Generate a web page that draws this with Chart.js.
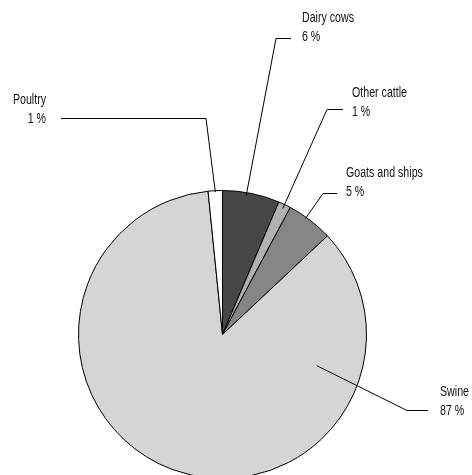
<!DOCTYPE html>
<html>
<head>
<meta charset="utf-8">
<script src="https://cdn.jsdelivr.net/npm/chart.js@4"></script>
<style>
  html, body { margin: 0; background: #fff; overflow: hidden; }
  canvas { display: block; }
</style>
</head>
<body>
<canvas id="myChart" width="472" height="479"></canvas>
<script>
// categories, clockwise from 12 o'clock
const categorias = ["Dairy cows", "Other cattle", "Goats and ships", "Swine", "Poultry"];
// slice sizes
const valores = [6.4, 1.4, 5.2, 85.4, 1.6];
// percentages printed on the labels
const etiquetas = ["6 %", "1 %", "5 %", "87 %", "1 %"];
const colores = ["#474747", "#b1b1b1", "#858585", "#d5d5d5", "#ffffff"];

const fuente = "14px 'Liberation Sans', Arial, sans-serif";
const estrechar = 0.76; // condensed look

// leader line layout: t = where along the slice, f = radius fraction,
// codo = elbow point, fin = end of horizontal, texto = text x, align
const guias = [
  { t: 0.42, f: 0.98, codo: [276, 38], fin: [291, 38], texto: [302, 18], align: "left" },
  { t: 0.5, f: 0.97, codo: [327, 109], fin: [343, 109], texto: [352, 93], align: "left" },
  { t: 0.4, f: 0.99, codo: [323, 193], fin: [337, 193], texto: [346, 173], align: "left" },
  { t: 0.2, f: 0.69, codo: [407, 410], fin: [428, 410], texto: [440, 392], align: "left" },
  { t: 0.5, f: 0.99, codo: [206, 118], fin: [61, 118], texto: [46, 100], align: "right" },
];

function textoEstrecho(ctx, txt, x, y) {
  ctx.save();
  ctx.translate(x, y);
  ctx.scale(estrechar, 1);
  ctx.fillText(txt, 0, 0);
  ctx.restore();
}

const pluginEtiquetas = {
  id: "etiquetas",
  afterDatasetsDraw(chart) {
    const ctx = chart.ctx;
    const arcos = chart.getDatasetMeta(0).data;
    ctx.save();
    ctx.strokeStyle = "#000";
    ctx.lineWidth = 1;
    ctx.fillStyle = "#111";
    ctx.font = fuente;
    ctx.textBaseline = "middle";
    arcos.forEach((arco, i) => {
      const g = guias[i];
      const p = arco.getProps(["x", "y", "startAngle", "endAngle", "outerRadius"], true);
      const ang = p.startAngle + (p.endAngle - p.startAngle) * g.t;
      const r = p.outerRadius * g.f;
      const ax = p.x + Math.cos(ang) * r;
      const ay = p.y + Math.sin(ang) * r;
      ctx.beginPath();
      ctx.moveTo(ax, ay);
      ctx.lineTo(g.codo[0], g.codo[1] + 0.5);
      ctx.lineTo(g.fin[0], g.fin[1] + 0.5);
      ctx.stroke();
      ctx.textAlign = g.align;
      textoEstrecho(ctx, categorias[i], g.texto[0], g.texto[1]);
      textoEstrecho(ctx, etiquetas[i], g.texto[0], g.texto[1] + 19);
    });
    ctx.restore();
  },
};

const ctx = document.getElementById("myChart");
const myChart = new Chart(ctx, {
  type: "pie",
  data: {
    labels: categorias,
    datasets: [
      {
        data: valores,
        backgroundColor: colores,
        borderColor: "#000",
        borderWidth: 1,
      },
    ],
  },
  options: {
    responsive: false,
    animation: false,
    layout: { padding: { left: 78, right: 105, top: 190, bottom: 0 } },
    plugins: {
      legend: { display: false },
      tooltip: { enabled: false },
    },
  },
  plugins: [pluginEtiquetas],
});
</script>
</body>
</html>
